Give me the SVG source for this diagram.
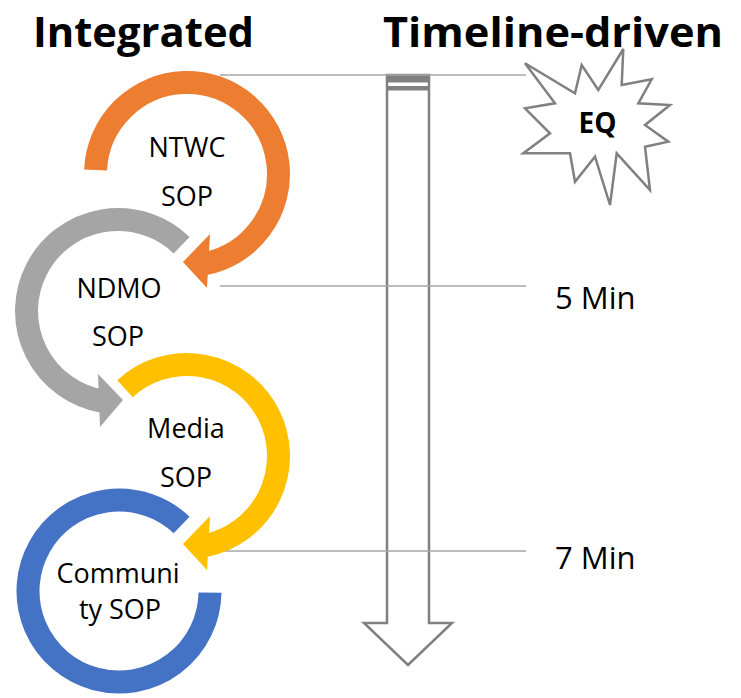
<svg xmlns="http://www.w3.org/2000/svg" width="741" height="698" viewBox="0 0 741 698">
<style>
.title{font-family:"Open Sans","Liberation Sans",sans-serif;font-weight:bold;font-size:42px;fill:#000}
.lbl{font-family:"Open Sans","Liberation Sans",sans-serif;font-size:27px;fill:#000;text-anchor:middle}
.time{font-family:"Open Sans","Liberation Sans",sans-serif;font-size:31px;fill:#000}
.ring{fill:none;stroke-width:23}
.tl{stroke:#A6A6A6;stroke-width:1.5;fill:none}
</style>
<rect width="741" height="698" fill="#fff"/>
<text class="title" x="33" y="46.5" textLength="221" lengthAdjust="spacingAndGlyphs">Integrated</text>
<text class="title" x="383" y="47" textLength="340" lengthAdjust="spacingAndGlyphs">Timeline-driven</text>

<g id="timeline-arrow">
<path d="M387,75 L429,75 L429,623 L452,623 L408,665 L364,623 L387,623 Z" fill="#fff" stroke="#808080" stroke-width="2.5" stroke-linejoin="miter"/>
<rect x="387" y="75" width="42" height="7.5" fill="#808080"/>
<rect x="387" y="86" width="42" height="4.5" fill="#808080"/>
</g>

<g id="connectors">
<line class="tl" x1="220" y1="75" x2="526" y2="75"/>
<line class="tl" x1="220" y1="286" x2="526" y2="286"/>
<line class="tl" x1="220" y1="551" x2="526" y2="551"/>
</g>

<g id="eq">
<polygon points="525,63.3 575,93.3 581.7,65 598.3,90 623.3,49 621.7,85 651.7,79.3 638.3,103.3 670,105 645,125 668.3,141.7 645,146.7 650,190 616.7,153.3 610,205 595,156.7 575,181.7 570,153.3 523.3,153.3 550,133.3 525,108.3 555,103.3" fill="#fff" stroke="#808080" stroke-width="2.5" stroke-linejoin="miter"/>
<text x="597.5" y="133" font-family="Open Sans, Liberation Sans, sans-serif" font-weight="bold" font-size="28" text-anchor="middle">EQ</text>
</g>

<g id="ntwc">
<path class="ring" stroke="#ED7D31" d="M95.6,170 A91.5,91.5 0 1 1 204.5,263.8"/>
<polygon points="210,234 183,262 207,288" fill="#ED7D31"/>
<text class="lbl" x="187" y="157">NTWC</text>
<text class="lbl" x="187" y="206">SOP</text>
</g>

<g id="ndmo">
<path class="ring" stroke="#A5A5A5" d="M181.6,245.2 A91.5,91.5 0 1 0 102.1,401.1"/>
<polygon points="98,374 123,400 100,427" fill="#A5A5A5"/>
<text class="lbl" x="119" y="298">NDMO</text>
<text class="lbl" x="118" y="346">SOP</text>
</g>

<g id="media">
<path class="ring" stroke="#FFC000" d="M125,388.7 A91.5,91.5 0 1 1 204.5,545.8"/>
<polygon points="210,516 183,544 207,570" fill="#FFC000"/>
<text class="lbl" x="186" y="438">Media</text>
<text class="lbl" x="186" y="487">SOP</text>
</g>

<g id="community">
<path class="ring" stroke="#4472C4" d="M181.6,525 A91,91 0 1 0 210,592.6"/>
<text class="lbl" x="118" y="583">Communi</text>
<text class="lbl" x="120" y="619">ty SOP</text>
</g>

<g id="times">
<text class="time" x="555" y="309">5 Min</text>
<text class="time" x="555" y="569">7 Min</text>
</g>
</svg>
